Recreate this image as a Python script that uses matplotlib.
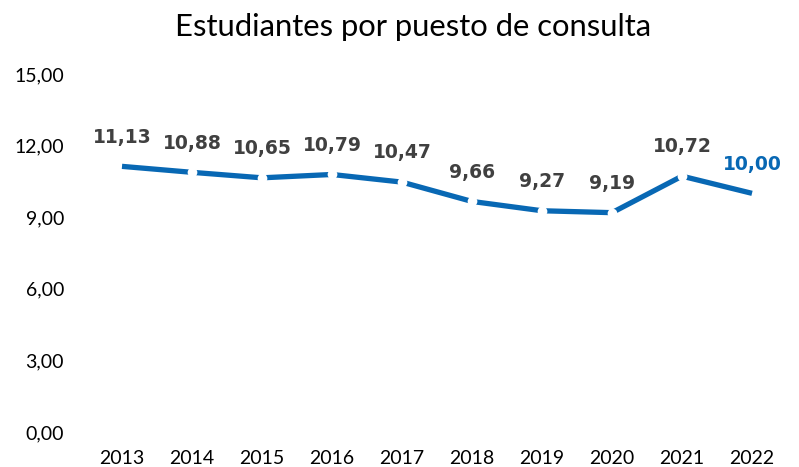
import matplotlib
matplotlib.use("Agg")
import matplotlib.pyplot as plt

years = ["2013", "2014", "2015", "2016", "2017", "2018", "2019", "2020", "2021", "2022"]
values = [11.13, 10.88, 10.65, 10.79, 10.47, 9.66, 9.27, 9.19, 10.72, 10.00]
yticks = [0, 3, 6, 9, 12, 15]
title = "Estudiantes por puesto de consulta"

blue = "#0868b4"
dark = "#404040"

fig = plt.figure(figsize=(7.99, 4.67), dpi=100)
ax = fig.add_axes([87/799, 1-432/467, 700/799, (432-74)/467])
x = list(range(len(years)))
ax.plot(x, values, color=blue, lw=3.8, solid_capstyle="butt", zorder=2)
ax.plot(x[1:-1], values[1:-1], "o", color="white", ms=7, mew=0, zorder=3)

for i, v in enumerate(values):
    c = blue if i == len(values) - 1 else dark
    ax.annotate(f"{v:.2f}".replace(".", ","), (i, v), xytext=(0, 21),
                textcoords="offset points", ha="center", va="center",
                fontsize=13.5, fontweight="heavy", color=c, family="DejaVu Sans")

ax.set_xlim(-0.5, len(years) - 0.5)
ax.set_ylim(0, 15)
ax.set_xticks(x)
ax.set_xticklabels(years, family="Lato", fontsize=14)
ax.set_yticks(yticks)
ax.set_yticklabels([f"{t:.2f}".replace(".", ",") for t in yticks], family="Lato", fontsize=14)
ax.tick_params(length=0)
ax.tick_params(axis="x", pad=13)
ax.tick_params(axis="y", pad=16.5)
for s in ax.spines.values():
    s.set_visible(False)

fig.text(413/799, 1-27/467, title, ha="center", va="center", family="Lato", fontsize=22.3, color="black")
fig.savefig("out.png", dpi=100, facecolor="white")
